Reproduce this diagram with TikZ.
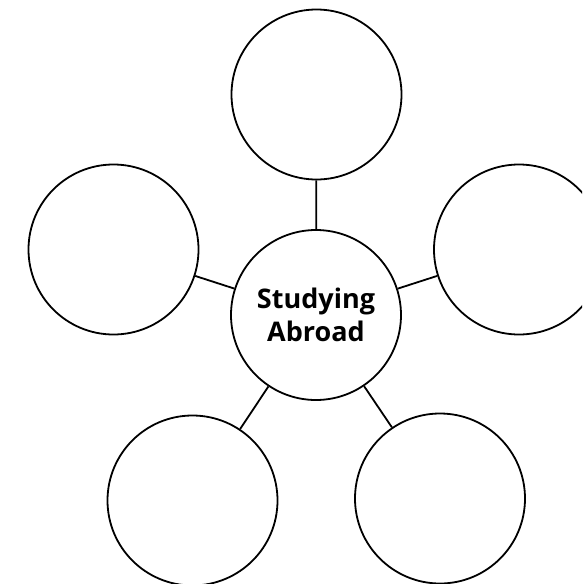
\documentclass[tikz,border=0pt]{standalone}
\usepackage{fontspec}
\setmainfont{Open Sans}
\begin{document}
\begin{tikzpicture}[x=1pt,y=-1pt,
  bubble/.style={circle,draw,line width=1.8pt,minimum size=170pt,inner sep=0pt},
  link/.style={line width=1.8pt}]
\useasboundingbox (0,0) rectangle (582,584);
\clip (0,0) rectangle (582,584);
\node[bubble,font=\bfseries\fontsize{27}{33}\selectfont,align=center] (c) at (316,315) {Studying\\Abroad};
\node[bubble] (t) at (316.5,94.5) {};
\node[bubble] (l) at (113.5,249.5) {};
\node[bubble] (r) at (519,249.5) {};
\node[bubble] (bl) at (192.5,500.5) {};
\node[bubble] (br) at (440,498.5) {};
\draw[link] (c) -- (t);
\draw[link] (c) -- (l);
\draw[link] (c) -- (r);
\draw[link] (c) -- (bl);
\draw[link] (c) -- (br);
\end{tikzpicture}
\end{document}
